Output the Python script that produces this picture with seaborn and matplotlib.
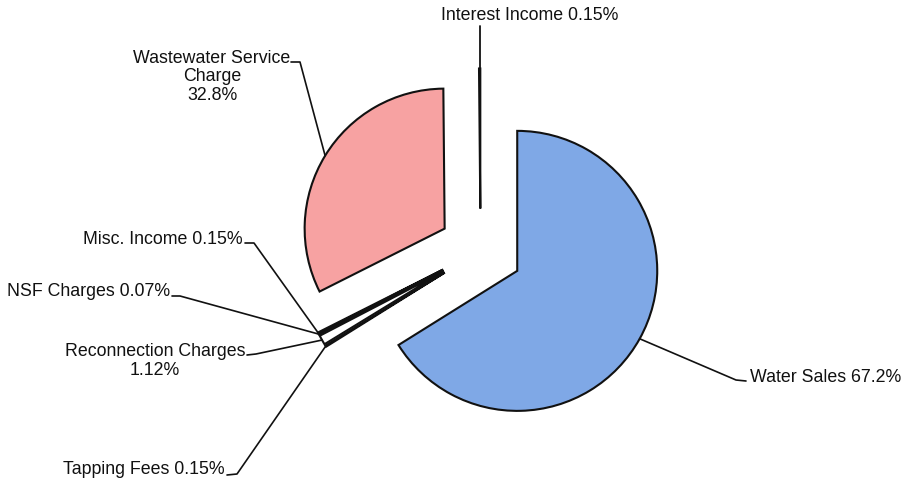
import matplotlib
matplotlib.use("Agg")
import matplotlib.pyplot as plt
import seaborn as sns
import numpy as np

categories = ["Water Sales", "Tapping Fees", "Reconnection Charges", "NSF Charges",
              "Misc. Income", "Wastewater Service Charge", "Interest Income"]
shares = [67.2, 0.15, 1.12, 0.07, 0.15, 32.8, 0.15]
label_texts = ["Water Sales 67.2%", "Tapping Fees 0.15%", "Reconnection Charges\n1.12%",
               "NSF Charges 0.07%", "Misc. Income 0.15%", "Wastewater Service\nCharge\n32.8%",
               "Interest Income 0.15%"]
colors = ["#7FA8E6", "#3C4A47", "#FFFFFF", "#3C4A47", "#3C4A47", "#F7A2A2", "#3C4A47"]

sns.set_theme(style="white")
plt.rcParams['font.family'] = ['Liberation Sans', 'DejaVu Sans']

W, H = 905, 489
fig = plt.figure(figsize=(W / 100, H / 100), dpi=100)
ax = fig.add_axes([0, 0, 1, 1])
wedges, _ = ax.pie(shares, colors=colors, startangle=90, counterclock=False,
                   radius=140, center=(480.5, H - 251.5), explode=[42] * len(shares),
                   wedgeprops=dict(edgecolor="#111111", linewidth=1.5), frame=True)
ax.set_aspect('auto')
ax.set_xlim(0, W)
ax.set_ylim(0, H)
ax.axis('off')


def anchor(w, extra=0.0):
    t = np.deg2rad((w.theta1 + w.theta2) / 2)
    cx, cy = w.center
    return cx + (w.r + extra) * np.cos(t), cy + (w.r + extra) * np.sin(t)


# text layout: (x, y_screen, ha, va, text-side leader points in screen coords)
layout = [
    (750, 378, 'left', 'center', [(746, 382), (736, 381)]),
    (225, 470, 'right', 'center', [(227, 476), (237, 475)]),
    (155, 361, 'center', 'center', [(247, 356), (256, 355)]),
    (170, 292, 'right', 'center', [(172, 297), (180, 297)]),
    (243, 240, 'right', 'center', [(245, 244), (254, 244)]),
    (212, 77, 'center', 'center', [(291, 63), (300, 63)]),
    (441, 16, 'left', 'center', None),
]

fs = 12.8
for w, txt, (x, y, ha, va, pts) in zip(wedges, label_texts, layout):
    ax.text(x, H - y, txt, ha=ha, va=va, fontsize=fs, color="#111111",
            linespacing=1.15)
    ax_, ay_ = anchor(w)
    if pts is None:
        ax.plot([ax_, ax_], [ay_, H - 27], color="#111111", lw=1.3)
    else:
        xs = [p[0] for p in pts] + [ax_]
        ys = [H - p[1] for p in pts] + [ay_]
        ax.plot(xs, ys, color="#111111", lw=1.2)

fig.savefig("out.png", dpi=100)
